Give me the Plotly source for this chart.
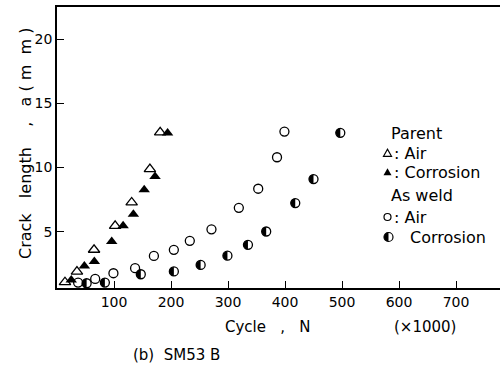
import plotly.graph_objects as go

# Parent metal, in air (open triangles)
parent_air_n = [14, 35, 65, 102, 131, 163, 181]
parent_air_a = [1.07, 1.9, 3.6, 5.46, 7.28, 9.88, 12.74]

# Parent metal, in corrosion (filled triangles)
parent_cor_n = [25, 48, 65.5, 96, 116, 134, 153, 172, 194]
parent_cor_a = [1.25, 2.34, 2.68, 4.24, 5.46, 6.37, 8.27, 9.3, 12.69]

# As weld, in air (open circles)
weld_air_n = [37, 67, 99, 137, 170, 205, 233, 271, 319, 353, 386, 399]
weld_air_a = [1.04, 1.33, 1.77, 2.16, 3.12, 3.59, 4.29, 5.19, 6.86, 8.35, 10.8, 12.8]

# As weld, in corrosion (half-filled circles)
weld_cor_n = [52, 84, 147, 205, 252, 299, 335, 367, 418, 450, 497]
weld_cor_a = [0.99, 1.04, 1.69, 1.91, 2.42, 3.14, 3.98, 5.02, 7.23, 9.1, 12.7]

x_ticks = [100, 200, 300, 400, 500, 600, 700]
y_ticks = [5, 10, 15, 20]

FONT = "DejaVu Sans"
R = 4.5
K = 0.5523 * R
HALF_LEFT = (f"M 0 {R} C {-K} {R} {-R} {K} {-R} 0 "
             f"C {-R} {-K} {-K} {-R} 0 {-R} Z")

fig = go.Figure()
fig.add_trace(go.Scatter(
    x=parent_air_n, y=parent_air_a, mode="markers",
    marker=dict(symbol="triangle-up-open", size=10, color="black", line=dict(width=1.3, color="black")),
    showlegend=False))
fig.add_trace(go.Scatter(
    x=parent_cor_n, y=parent_cor_a, mode="markers",
    marker=dict(symbol="triangle-up", size=10, color="black"),
    showlegend=False))
fig.add_trace(go.Scatter(
    x=weld_air_n, y=weld_air_a, mode="markers",
    marker=dict(symbol="circle-open", size=9, color="black", line=dict(width=1.3, color="black")),
    showlegend=False))
fig.add_trace(go.Scatter(
    x=weld_cor_n, y=weld_cor_a, mode="markers",
    marker=dict(symbol="circle-open", size=9, color="black", line=dict(width=1.3, color="black")),
    showlegend=False))

# left half of each weld-corrosion circle filled, anchored at the data point
for n, a in zip(weld_cor_n, weld_cor_a):
    fig.add_shape(type="path", xref="x", yref="y", xsizemode="pixel", ysizemode="pixel",
                  xanchor=n, yanchor=a, path=HALF_LEFT,
                  fillcolor="black", line=dict(width=0), layer="above")

def ann(text, x, y, size=16, xanchor="center", angle=0):
    fig.add_annotation(text=text, x=x, y=y, xref="paper", yref="paper",
                       xanchor=xanchor, yanchor="middle", showarrow=False,
                       textangle=angle, font=dict(family=FONT, size=size, color="black"))

W, H = 443.0, 281.0
L, T = 57.0, 7.0
def px(x):
    return (x - L) / W
def py(y):
    return (T + H - y) / H

ann("Crack   length    ,   a ( m  m )", px(25), py(144), size=16, angle=-90)
ann("Cycle   ,   N", px(267.5), py(327), size=15)
ann("(\u00d71000)", px(424.5), py(327), size=15)
ann("(b)  SM53 B", px(176), py(355), size=15)

# legend block text
ann("Parent", px(389), py(133), xanchor="left")
ann(": Air", px(392), py(153), xanchor="left")
ann(": Corrosion", px(392), py(172), xanchor="left")
ann("As weld", px(389), py(196), xanchor="left")
ann(": Air", px(392), py(217), xanchor="left")
ann("Corrosion", px(408), py(237), xanchor="left")

# legend block symbols (pixel-sized shapes anchored in paper space)
def sym(path, cx, cy, filled):
    fig.add_shape(type="path", xref="paper", yref="paper", xsizemode="pixel", ysizemode="pixel",
                  xanchor=px(cx), yanchor=py(cy), path=path,
                  fillcolor="black" if filled else "rgba(0,0,0,0)",
                  line=dict(width=0 if filled else 1.2, color="black"))

def circle_path(r):
    k = 0.5523 * r
    return (f"M 0 {r} C {k} {r} {r} {k} {r} 0 C {r} {-k} {k} {-r} 0 {-r} "
            f"C {-k} {-r} {-r} {-k} {-r} 0 C {-r} {k} {-k} {r} 0 {r} Z")

TRI = "M -4 -3.3 L 4 -3.3 L 0 3.7 Z"
sym(TRI, 387.5, 153, False)
sym(TRI, 387.5, 172, True)
sym(circle_path(3.5), 387.5, 217, False)
sym(circle_path(R), 388.5, 237, False)
sym(HALF_LEFT, 388.5, 237, True)

fig.update_xaxes(range=[0, (500 - L) / 0.57], tickvals=x_ticks, ticktext=[str(v) for v in x_ticks],
                 ticks="inside", ticklen=7, tickwidth=1.3, tickcolor="black",
                 showline=True, linecolor="black", linewidth=1.6, mirror=True,
                 showgrid=False, zeroline=False,
                 tickfont=dict(family=FONT, size=14, color="black"))
fig.update_yaxes(range=[0.62, 22.5], tickvals=y_ticks, ticktext=[str(v) for v in y_ticks],
                 ticks="inside", ticklen=7, tickwidth=1.3, tickcolor="black",
                 showline=True, linecolor="black", linewidth=1.6, mirror=False,
                 showgrid=False, zeroline=False,
                 tickfont=dict(family=FONT, size=14, color="black"))
fig.update_layout(width=500, height=366, margin=dict(l=57, r=0, t=7, b=78),
                  plot_bgcolor="white", paper_bgcolor="white", showlegend=False)
fig.write_html("out.html")
